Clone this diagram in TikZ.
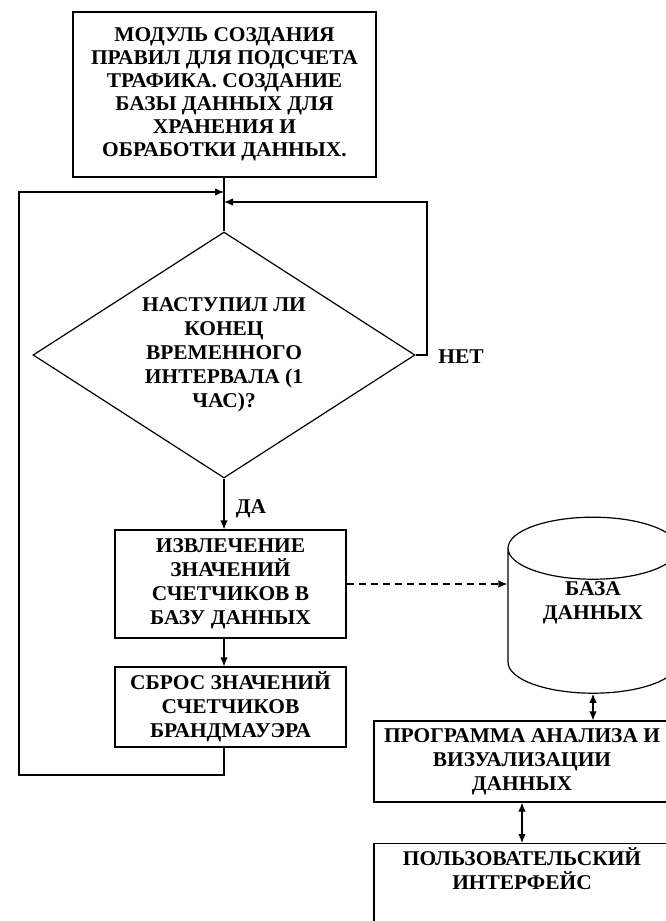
\documentclass[tikz,border=0pt]{standalone}
\usepackage{fontspec}
\setmainfont{Liberation Serif}[FakeStretch=1.02]
\usetikzlibrary{shapes.geometric,arrows.meta}

\begin{document}
\begin{tikzpicture}[x=1pt,y=-1pt,line width=1.2pt,
	font=\bfseries\fontsize{21}{24}\selectfont,
	>={Latex[length=9pt,width=7.5pt]},
	block/.style={draw,align=center,inner sep=0pt}]
	\pgfmathsetmacro\TRUNK{224}
	\pgfmathsetmacro\LEFT{19}
	\pgfmathsetmacro\RIGHT{427}
	\pgfmathsetmacro\BOTTOM{775}
	\useasboundingbox (0,0) rectangle (666,921);
	\coordinate (jl) at (\TRUNK,192);
	\coordinate (jr) at (\TRUNK,202);
	\coordinate (back) at (\LEFT,\BOTTOM);
	\coordinate (turn) at (\RIGHT,202);
	
	\node[block,minimum width=303pt,minimum height=165pt,font=\bfseries\fontsize{21}{23}\selectfont] (rules) at (224.5,94.5) {МОДУЛЬ СОЗДАНИЯ\\ПРАВИЛ ДЛЯ ПОДСЧЕТА\\ТРАФИКА. СОЗДАНИЕ\\БАЗЫ ДАННЫХ ДЛЯ\\ХРАНЕНИЯ И\\ОБРАБОТКИ ДАННЫХ.};
	\node[block,diamond,aspect=1.55,minimum width=382pt,minimum height=246pt] (check) at (\TRUNK,355) {НАСТУПИЛ ЛИ\\КОНЕЦ\\ВРЕМЕННОГО\\ИНТЕРВАЛА (1\\ЧАС)?};
	\node[block,minimum width=231pt,minimum height=108pt] (fetch) at (230.5,584) {ИЗВЛЕЧЕНИЕ\\ЗНАЧЕНИЙ\\СЧЕТЧИКОВ В\\БАЗУ ДАННЫХ};
	\node[block,minimum width=231pt,minimum height=80pt] (reset) at (230.5,707) {СБРОС ЗНАЧЕНИЙ\\СЧЕТЧИКОВ\\БРАНДМАУЭРА};
	\node[block,cylinder,shape border rotate=90,aspect=0.62,minimum width=170pt,minimum height=176pt] (db) at (593,621) {БАЗА\\ДАННЫХ\\[16pt]~};
	\node[block,minimum width=296pt,minimum height=81pt] (viz) at (522,761.5) {ПРОГРАММА АНАЛИЗА И\\ВИЗУАЛИЗАЦИИ\\ДАННЫХ};
	\node[block,minimum width=296pt,minimum height=97pt,anchor=north] (ui) at (522,843) {ПОЛЬЗОВАТЕЛЬСКИЙ\\ИНТЕРФЕЙС\\~\\~};
	\node (no) at (461,357) {НЕТ};
	\node (yes) at (251,509) {ДА};
	
	\draw (check.north |- rules.south) -- (check.north);
	\draw[->] (check.south) -- (check.south |- fetch.north);
	\draw[->] (check.south |- fetch.south) -- (check.south |- reset.north);
	\draw[->] (check.south |- reset.south) |- (back) |- (jl);
	\draw[->] (check.east) -| (turn) -- (jr);
	\draw[->,dash pattern=on 7pt off 5pt] (fetch.east) -- (fetch.east -| db.west);
	\draw[<->] (db.south) -- (db.south |- viz.north);
	\draw[<->] (viz.south) -- (ui.north);
\end{tikzpicture}
\end{document}
